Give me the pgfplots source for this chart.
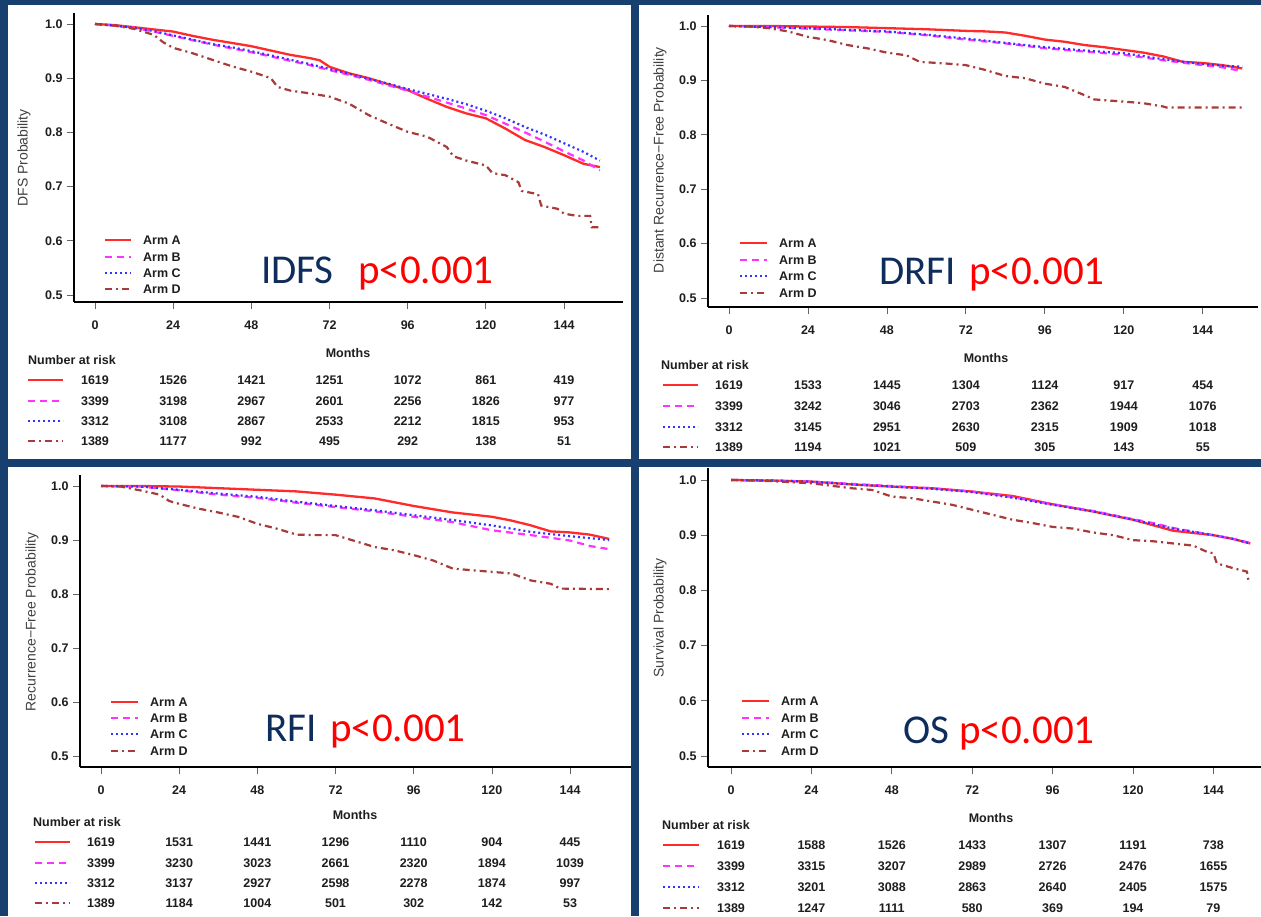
\documentclass[border=0pt]{standalone}
\usepackage{fontspec}
\setmainfont{Liberation Sans}
\newfontfamily\calib{Carlito}
\usepackage{pgfplots}
\pgfplotsset{compat=1.18}

\definecolor{navy}{HTML}{17406F}
\definecolor{armred}{HTML}{FF2A2A}
\definecolor{armmag}{HTML}{FF33FF}
\definecolor{armblue}{HTML}{3333FF}
\definecolor{armbrown}{HTML}{A83A3A}
\definecolor{titlenavy}{HTML}{0F2D5C}
\definecolor{pred}{HTML}{FF0000}
\definecolor{txt}{HTML}{1E1E1E}

\tikzset{
  armA/.style={color=armred, line width=2.3pt, solid},
  armB/.style={color=armmag, line width=2.2pt, dash pattern=on 7pt off 5pt},
  armC/.style={color=armblue, line width=2.2pt, dash pattern=on 2pt off 3pt},
  armD/.style={color=armbrown, line width=2.2pt, dash pattern=on 7pt off 4pt on 2pt off 4pt},
  lab/.style={font=\fontsize{12.5}{14}\selectfont\bfseries, text=txt, inner sep=0pt},
  ylab/.style={font=\fontsize{14}{16}\selectfont, text=txt!85, inner sep=0pt, rotate=90},
  big/.style={font=\calib\fontsize{41}{46}\selectfont, inner sep=0pt, anchor=base west},
}

\pgfplotsset{
  km/.style={
    scale only axis,
    axis lines=left,
    axis line style={line width=2.8pt, black, -},
    tick align=outside,
    major tick length=7pt,
    tick style={line width=0.8pt, black!60},
    xtick={0,24,48,72,96,120,144},
    xticklabels={0,24,48,72,96,120,144},
    ytick={0.5,0.6,0.7,0.8,0.9,1.0},
    yticklabels={0.5,0.6,0.7,0.8,0.9,1.0},
    ticklabel style={font=\fontsize{12.5}{14}\selectfont\bfseries, text=txt},
    xticklabel style={yshift=-8pt},
    yticklabel style={xshift=-1pt},
    anchor=south west,
  }
}

% one row of the number-at-risk table: x of month 0, step per 24 months, y, values
\newcommand\riskrow[4]{%
  \foreach \v [count=\i from 0] in {#4} {\node[lab] at ({#1+\i*#2},#3) {\v};}}
% one legend entry: style, x start, x end, y, text
\newcommand\legrow[5]{%
  \draw[#1] (#2,#4) -- (#3,#4);
  \node[lab, anchor=west] at (#3+12,#4) {#5};}

\begin{document}
\begin{tikzpicture}[x=1pt, y=1pt]
\useasboundingbox (0,0) rectangle (1261,916);
\fill[navy] (0,0) rectangle (1261,916);
\fill[white] (8,457) rectangle (631,911);
\fill[white] (639,457) rectangle (1261,911);
\fill[white] (8,0) rectangle (631,449);
\fill[white] (639,0) rectangle (1261,449);

% ---------- IDFS ----------
\begin{axis}[km, at={(74pt,614pt)}, width=549pt, height=289pt,
  xmin=-6.45, xmax=162.1, ymin=0.4871, ymax=1.0203]
\addplot[armA] coordinates {(0,1)(6,0.998)(12,0.994)(18,0.990)(24,0.986)(30,0.978)(36,0.971)(42,0.965)(48,0.959)(54,0.951)(60,0.943)(66,0.937)(69,0.933)(72,0.921)(78,0.909)(84,0.900)(90,0.889)(96,0.878)(102,0.862)(108,0.847)(114,0.835)(120,0.826)(126,0.807)(132,0.786)(138,0.773)(144,0.758)(150,0.742)(155,0.736)};
\addplot[armB] coordinates {(0,1)(6,0.997)(12,0.993)(18,0.986)(24,0.978)(30,0.970)(36,0.962)(42,0.955)(48,0.948)(54,0.940)(60,0.932)(66,0.924)(72,0.915)(78,0.906)(84,0.897)(90,0.887)(96,0.877)(102,0.866)(108,0.855)(114,0.844)(120,0.832)(126,0.816)(132,0.800)(138,0.783)(144,0.765)(150,0.748)(155,0.730)};
\addplot[armC] coordinates {(0,1)(6,0.997)(12,0.993)(18,0.987)(24,0.979)(30,0.971)(36,0.963)(42,0.957)(48,0.950)(54,0.942)(60,0.934)(66,0.926)(72,0.917)(78,0.908)(84,0.899)(90,0.890)(96,0.880)(102,0.871)(108,0.862)(114,0.852)(120,0.840)(126,0.826)(132,0.810)(138,0.796)(144,0.780)(150,0.764)(155,0.748)};
\addplot[armD] coordinates {(0,1)(6,0.997)(12,0.991)(18,0.980)(21,0.966)(24,0.956)(30,0.946)(36,0.934)(42,0.922)(48,0.912)(54,0.900)(56,0.884)(60,0.877)(66,0.872)(72,0.866)(78,0.853)(84,0.832)(90,0.816)(96,0.801)(102,0.792)(108,0.773)(110,0.756)(114,0.748)(120,0.739)(122,0.725)(126,0.721)(130,0.708)(131,0.692)(136,0.686)(137,0.665)(142,0.659)(144,0.650)(148,0.646)(152,0.646)(152.5,0.625)(155,0.625)};
\end{axis}
\node[ylab] at (24,758) {DFS Probability};
\node[lab] at (348,563) {Months};
\node[lab, anchor=west] at (28,556) {Number at risk};
\draw[armA] (28,536) -- (63,536); \riskrow{95}{78.17}{536}{1619,1526,1421,1251,1072,861,419}
\draw[armB] (28,515) -- (63,515); \riskrow{95}{78.17}{515}{3399,3198,2967,2601,2256,1826,977}
\draw[armC] (28,495) -- (63,495); \riskrow{95}{78.17}{495}{3312,3108,2867,2533,2212,1815,953}
\draw[armD] (28,475) -- (63,475); \riskrow{95}{78.17}{475}{1389,1177,992,495,292,138,51}
\legrow{armA}{105}{131}{676}{Arm A}
\legrow{armB}{105}{131}{659}{Arm B}
\legrow{armC}{105}{131}{643}{Arm C}
\legrow{armD}{105}{131}{627}{Arm D}
\node[big, text=titlenavy] at (261,632) {IDFS};
\node[big, text=pred] at (358,632) {p<0.001};

% ---------- DRFI ----------
\begin{axis}[km, at={(708pt,609pt)}, width=550pt, height=292pt,
  xmin=-6.38, xmax=160.8, ymin=0.4835, ymax=1.0202]
\addplot[armA] coordinates {(0,1)(12,1.0)(24,0.999)(36,0.998)(48,0.996)(60,0.994)(72,0.991)(78,0.990)(84,0.988)(90,0.982)(96,0.975)(102,0.971)(108,0.965)(114,0.961)(120,0.956)(126,0.951)(132,0.944)(138,0.934)(144,0.932)(150,0.928)(156,0.922)};
\addplot[armB] coordinates {(0,1)(12,0.998)(24,0.995)(36,0.992)(48,0.989)(60,0.983)(72,0.975)(84,0.968)(96,0.959)(108,0.953)(120,0.947)(132,0.937)(144,0.928)(150,0.924)(156,0.917)};
\addplot[armC] coordinates {(0,1)(12,0.998)(24,0.996)(36,0.993)(48,0.990)(60,0.984)(72,0.977)(84,0.969)(96,0.961)(108,0.955)(120,0.950)(132,0.939)(144,0.930)(150,0.927)(156,0.925)};
\addplot[armD] coordinates {(0,1)(6,0.999)(12,0.996)(18,0.990)(24,0.980)(30,0.974)(36,0.965)(42,0.959)(48,0.951)(54,0.946)(58,0.934)(66,0.931)(72,0.928)(78,0.919)(84,0.908)(90,0.904)(96,0.894)(102,0.888)(108,0.873)(111,0.865)(120,0.861)(126,0.858)(132,0.852)(133,0.850)(156,0.850)};
\end{axis}
\node[ylab] at (660,756) {Distant Recurrence−Free Probability};
\node[lab] at (986,558) {Months};
\node[lab, anchor=west] at (661,551) {Number at risk};
\draw[armA] (663,531) -- (698,531); \riskrow{729}{78.96}{531}{1619,1533,1445,1304,1124,917,454}
\draw[armB] (663,510) -- (698,510); \riskrow{729}{78.96}{510}{3399,3242,3046,2703,2362,1944,1076}
\draw[armC] (663,489) -- (698,489); \riskrow{729}{78.96}{489}{3312,3145,2951,2630,2315,1909,1018}
\draw[armD] (663,469) -- (698,469); \riskrow{729}{78.96}{469}{1389,1194,1021,509,305,143,55}
\legrow{armA}{740}{767}{673}{Arm A}
\legrow{armB}{740}{767}{656}{Arm B}
\legrow{armC}{740}{767}{640}{Arm C}
\legrow{armD}{740}{767}{623}{Arm D}
\node[big, text=titlenavy] at (879,631) {DRFI};
\node[big, text=pred] at (969,631) {p<0.001};

% ---------- RFI ----------
\begin{axis}[km, at={(80pt,149pt)}, width=551pt, height=292pt,
  xmin=-6.45, xmax=162.7, ymin=0.4796, ymax=1.0204]
\addplot[armA] coordinates {(0,1)(12,1.0)(24,0.999)(36,0.996)(48,0.993)(60,0.990)(72,0.984)(84,0.977)(90,0.970)(96,0.963)(102,0.957)(108,0.951)(114,0.947)(120,0.943)(126,0.936)(132,0.927)(138,0.916)(144,0.914)(150,0.910)(156,0.902)};
\addplot[armB] coordinates {(0,1)(12,0.999)(24,0.992)(36,0.984)(48,0.978)(60,0.969)(72,0.961)(84,0.953)(96,0.943)(108,0.933)(120,0.918)(132,0.909)(144,0.899)(150,0.889)(156,0.883)};
\addplot[armC] coordinates {(0,1)(12,0.999)(24,0.993)(36,0.986)(48,0.980)(60,0.971)(72,0.963)(84,0.955)(96,0.946)(108,0.937)(120,0.927)(132,0.915)(144,0.907)(156,0.900)};
\addplot[armD] coordinates {(0,1)(6,0.999)(12,0.992)(18,0.984)(21,0.972)(24,0.967)(30,0.958)(36,0.951)(42,0.943)(48,0.930)(54,0.921)(60,0.910)(66,0.909)(72,0.909)(78,0.898)(84,0.887)(90,0.881)(96,0.872)(102,0.862)(108,0.847)(114,0.844)(120,0.841)(126,0.838)(132,0.825)(138,0.819)(141,0.810)(156,0.809)};
\end{axis}
\node[ylab] at (32,294) {Recurrence−Free Probability};
\node[lab] at (355,101) {Months};
\node[lab, anchor=west] at (33,94) {Number at risk};
\draw[armA] (35,74) -- (70,74); \riskrow{101}{78.17}{74}{1619,1531,1441,1296,1110,904,445}
\draw[armB] (35,53) -- (70,53); \riskrow{101}{78.17}{53}{3399,3230,3023,2661,2320,1894,1039}
\draw[armC] (35,33) -- (70,33); \riskrow{101}{78.17}{33}{3312,3137,2927,2598,2278,1874,997}
\draw[armD] (35,13) -- (70,13); \riskrow{101}{78.17}{13}{1389,1184,1004,501,302,142,53}
\legrow{armA}{111}{138}{214}{Arm A}
\legrow{armB}{111}{138}{198}{Arm B}
\legrow{armC}{111}{138}{182}{Arm C}
\legrow{armD}{111}{138}{165}{Arm D}
\node[big, text=titlenavy] at (265,174) {RFI};
\node[big, text=pred] at (330,174) {p<0.001};

% ---------- OS ----------
\begin{axis}[km, at={(708pt,149pt)}, width=553pt, height=299pt,
  xmin=-6.87, xmax=158.2, ymin=0.480, ymax=1.0217]
\addplot[armA] coordinates {(0,1)(12,0.999)(24,0.997)(36,0.992)(48,0.988)(60,0.985)(72,0.979)(84,0.971)(96,0.956)(108,0.943)(120,0.928)(126,0.918)(132,0.908)(138,0.904)(144,0.900)(150,0.893)(155,0.885)};
\addplot[armB] coordinates {(0,1)(12,0.999)(24,0.997)(36,0.993)(48,0.989)(60,0.985)(72,0.979)(84,0.969)(96,0.956)(108,0.944)(120,0.929)(126,0.922)(132,0.913)(144,0.900)(150,0.893)(155,0.886)};
\addplot[armC] coordinates {(0,1)(12,0.999)(24,0.997)(36,0.992)(48,0.988)(60,0.984)(72,0.978)(84,0.968)(96,0.955)(108,0.943)(120,0.928)(126,0.920)(132,0.912)(144,0.900)(150,0.893)(155,0.885)};
\addplot[armD] coordinates {(0,1)(12,0.998)(24,0.994)(36,0.985)(42,0.982)(48,0.970)(54,0.967)(60,0.961)(66,0.955)(72,0.946)(78,0.937)(84,0.928)(90,0.922)(96,0.915)(102,0.912)(108,0.905)(114,0.900)(120,0.891)(126,0.889)(132,0.885)(138,0.881)(142,0.870)(144,0.867)(145,0.849)(150,0.840)(154,0.834)(154.5,0.816)(155,0.816)};
\end{axis}
\node[ylab] at (660,298) {Survival Probability};
\node[lab] at (991,98) {Months};
\node[lab, anchor=west] at (662,91) {Number at risk};
\draw[armA] (663,71) -- (699,71); \riskrow{731}{80.4}{71}{1619,1588,1526,1433,1307,1191,738}
\draw[armB] (663,50) -- (699,50); \riskrow{731}{80.4}{50}{3399,3315,3207,2989,2726,2476,1655}
\draw[armC] (663,29) -- (699,29); \riskrow{731}{80.4}{29}{3312,3201,3088,2863,2640,2405,1575}
\draw[armD] (663,8) -- (699,8); \riskrow{731}{80.4}{8}{1389,1247,1111,580,369,194,79}
\legrow{armA}{742}{769}{215}{Arm A}
\legrow{armB}{742}{769}{198}{Arm B}
\legrow{armC}{742}{769}{182}{Arm C}
\legrow{armD}{742}{769}{165}{Arm D}
\node[big, text=titlenavy] at (903,172) {OS};
\node[big, text=pred] at (959,172) {p<0.001};
\end{tikzpicture}
\end{document}
